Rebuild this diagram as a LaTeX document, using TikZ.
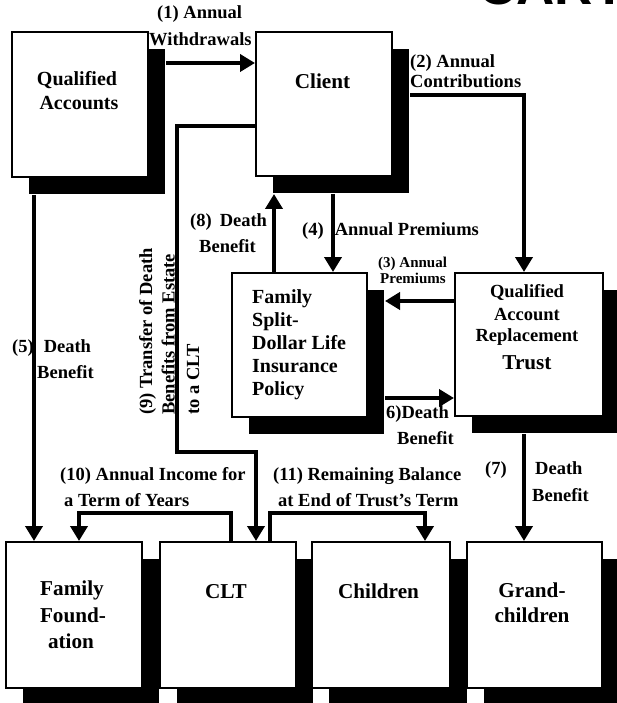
\documentclass[tikz,border=0pt]{standalone}
\usepackage{fontspec}
\setmainfont{Liberation Serif}
\newfontfamily\headsans{Liberation Sans}
\usetikzlibrary{arrows.meta,shadows}
\begin{document}
\begin{tikzpicture}[x=1pt,y=-1pt,
  box/.style={draw=black,line width=2pt,fill=white,inner sep=0pt,
    drop shadow={shadow xshift=17pt,shadow yshift=-17pt,opacity=1,fill=black}},
  flow/.style={line width=4.5pt,-{Triangle[length=15pt,width=17pt]}},
  lbl/.style={inner sep=0pt,anchor=base west,font=\fontsize{18.5}{22}\selectfont\bfseries},
  lblsm/.style={lbl,font=\fontsize{15}{18}\selectfont\bfseries},
  txt/.style={inner sep=0pt,anchor=base,font=\fontsize{20}{24}\selectfont\bfseries},
  txtl/.style={txt,font=\fontsize{21.2}{25}\selectfont\bfseries},
  txtm/.style={txt,font=\fontsize{18.5}{22}\selectfont\bfseries},
]
\useasboundingbox[fill=white] (0,0) rectangle (616,703);

% heading, only its lower edge falls on the page
\begin{scope}
  \clip (0,0) rectangle (616,703);
  \node[inner sep=0pt,anchor=base west,font={\headsans\bfseries\fontsize{53}{53}\selectfont}] (cart) at (478,5) {CART};
\end{scope}

% boxes
\node[box,minimum width=136pt,minimum height=145pt] (qa)       at (80,104.5) {};
\node[box,minimum width=136pt,minimum height=144pt] (client)   at (324,104) {};
\node[box,minimum width=135pt,minimum height=144pt] (policy)   at (299.5,345) {};
\node[box,minimum width=148pt,minimum height=143pt] (trust)    at (529,344.5) {};
\node[box,minimum width=136pt,minimum height=146pt] (ff)       at (74,615) {};
\node[box,minimum width=136pt,minimum height=146pt] (clt)      at (228,615) {};
\node[box,minimum width=138pt,minimum height=146pt] (children) at (381,615) {};
\node[box,minimum width=135pt,minimum height=146pt] (grand)    at (534.5,615) {};

% box texts
\node[txt] (qa1) at (77,86) {Qualified};
\node[txt] (qa2) at (79,110) {Accounts};
\node[txtl] (cl1) at (322.5,89) {Client};
\node[txt,anchor=base west] (po1) at (252,303) {Family};
\node[txt,anchor=base west] (po2) at (252,326) {Split-};
\node[txt,anchor=base west] (po3) at (252,349) {Dollar Life};
\node[txt,anchor=base west] (po4) at (252,372) {Insurance};
\node[txt,anchor=base west] (po5) at (252,395) {Policy};
\node[txtm] (tr1) at (527,297) {Qualified};
\node[txtm] (tr2) at (527,320) {Account};
\node[txtm] (tr3) at (527,341) {Replacement};
\node[txtl] (tr4) at (527,369) {Trust};
\node[txtl] (ff1) at (72,595) {Family};
\node[txtl] (ff2) at (73,622) {Found-};
\node[txtl] (ff3) at (71,648) {ation};
\node[txtl] (cl2) at (226,598) {CLT};
\node[txtl] (ch1) at (378.5,598) {Children};
\node[txtl] (gr1) at (532,597) {Grand-};
\node[txtl] (gr2) at (532,622) {children};

% connector end points
\coordinate (a1)   at ([xshift=17pt,yshift=-32pt]qa.north east);
\coordinate (a2)   at ([xshift=17pt,yshift=-64pt]client.north east);
\coordinate (a2e)  at ([xshift=-5pt]trust.north);
\coordinate (cshB) at ([yshift=-17pt]client.south);
\coordinate (a4)   at ([xshift=-35pt]policy.north east);
\coordinate (a8)   at ([xshift=43pt]policy.north west);
\coordinate (pshR) at ([xshift=17pt]policy.east);
\coordinate (a3)   at ([yshift=-29pt]trust.north west);
\coordinate (a6)   at ([yshift=20pt]policy.south east);
\coordinate (a5)   at ([xshift=23pt,yshift=-17pt]qa.south west);
\coordinate (a7)   at ([xshift=-5pt,yshift=-17pt]trust.south);
\coordinate (a9)   at ([yshift=-95pt]client.north west);
\coordinate (a9e)  at ([xshift=97pt]clt.north west);
\coordinate (a10s) at ([xshift=72pt]clt.north west);
\coordinate (a10e) at ([xshift=74pt]ff.north west);
\coordinate (a11s) at ([xshift=111pt]clt.north west);
\coordinate (a11e) at ([xshift=114pt]children.north west);

% connectors
\draw[flow] (a1) -- (a1 -| client.west);
\draw[flow] (a2) -| (a2e);
\draw[flow] (a3) -- (pshR |- a3);
\draw[flow] (a4 |- cshB) -- (a4);
\draw[flow] (a5) -- (a5 |- ff.north);
\draw[flow] (pshR |- a6) -- (a6 -| trust.west);
\draw[flow] (a7) -- (a7 |- grand.north);
\draw[flow] (a8) -- (a8 |- cshB);
\draw[flow] (a9) -| ++(-78,326) -| (a9e);
\draw[flow] (a10s) -- ++(0,-28) -| (a10e);
\draw[flow] (a11s) -- ++(0,-28) -| (a11e);

% connector labels
\node[lbl] (l1a) at (157,19) {(1) Annual};
\node[lbl] (l1b) at (149,46) {Withdrawals};
\node[lbl] (l2a) at (410,68) {(2) Annual};
\node[lbl] (l2b) at (410,88) {Contributions};
\node[lblsm] (l3a) at (378,267) {(3) Annual};
\node[lblsm] (l3b) at (380,283) {Premiums};
\node[lbl] (l4) at (302,235) {(4)\hspace{11pt}Annual Premiums};
\node[lbl] (l5a) at (12,352) {(5)\hspace{10pt}Death};
\node[lbl] (l5b) at (37,378) {Benefit};
\node[lbl] (l6a) at (386,418) {6)Death};
\node[lbl] (l6b) at (397,444) {Benefit};
\node[lbl] (l7a) at (485,474) {(7)};
\node[lbl] (l7b) at (535,474) {Death};
\node[lbl] (l7c) at (532,501) {Benefit};
\node[lbl] (l8a) at (190,226) {(8)\hspace{8pt}Death};
\node[lbl] (l8b) at (199,252) {Benefit};
\node[lbl,rotate=90] (l9a) at (152,415) {(9) Transfer of Death};
\node[lbl,rotate=90] (l9b) at (174.5,415) {Benefits from Estate};
\node[lbl,rotate=90] (l9c) at (199,415) {to a CLT};
\node[lbl] (l10a) at (60,480) {(10) Annual Income for};
\node[lbl] (l10b) at (64,506) {a Term of Years};
\node[lbl] (l11a) at (273,480) {(11) Remaining Balance};
\node[lbl] (l11b) at (278,506) {at End of Trust’s Term};
\end{tikzpicture}
\end{document}
